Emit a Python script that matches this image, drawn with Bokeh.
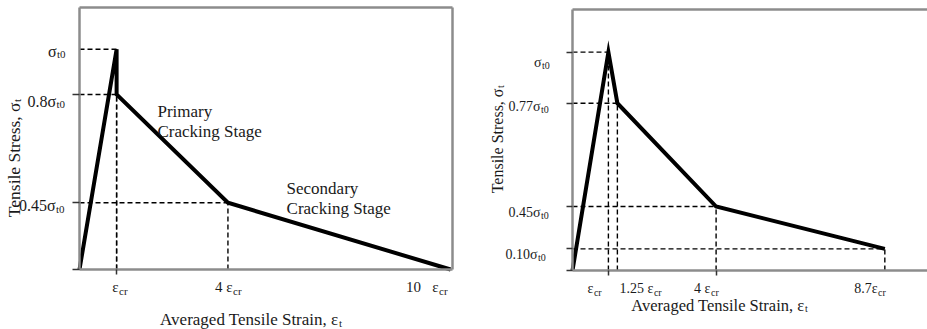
import math
from bokeh.plotting import figure
from bokeh.models import Range1d, FixedTicker, Label, LinearAxis, CustomJSTickFormatter
from bokeh.layouts import row
from bokeh.embed import file_html
from bokeh.resources import INLINE

FONT = "Liberation Serif"
AXIS_GRAY = "#8c8c8c"
TXT = "#1a1a1a"

# ---------------- data ----------------
# strain in multiples of eps_cr; stress heights as drawn in the (not-to-scale) schematic, in units of sigma_t0
strain_a = [0.0, 1.0, 1.0, 4.0, 10.0]
stress_a = [0.0, 1.0, 0.795, 0.303, 0.0]
ytick_a = [1.0, 0.795, 0.303]
ylab_a = ["σ", "0.8σ", "0.45σ"]
xtick_a = [1.0, 4.0, 10.0]
xlab_a = ["ε", "4 ε", "10\u00a0\u00a0\u00a0ε"]
stage_a = ["Primary", "Cracking Stage", "Secondary", "Cracking Stage"]
xmax_a, ymax_a = 10.05, 1.19

strain_b = [0.0, 1.0, 1.25, 4.0, 8.7]
stress_b = [0.0, 1.0, 0.766, 0.293, 0.099]
ytick_b = [1.0, 0.766, 0.293, 0.099]
ylab_b = ["σ", "0.77σ", "0.45σ", "0.10σ"]
xtick_b = [1.0, 1.25, 4.0, 8.7]
xlab_b = ["ε", "1.25 ε", "4 ε", "8.7ε"]
xmax_b, ymax_b = 9.89, 1.195

sub_stress = "t0"
sub_strain = "cr"
x_title = "Averaged Tensile Strain, ε"
y_title = "Tensile Stress, σ"
title_sub = "t"


def lab(p, x, y, text, dx, dy, size, align="left", angle=0.0, color=TXT):
    # dx: pixels to the right, dy: pixels downward
    p.add_layout(Label(x=x, y=y, text=text, x_offset=dx, y_offset=-dy,
                       text_font=FONT, text_font_size=size, text_align=align,
                       text_baseline="alphabetic", angle=angle, text_color=color))


def sub_label(p, x, y, base, sub, dx, dy, size, subsize, drop, rotated=False):
    if not rotated:
        lab(p, x, y, base, dx, dy, size, "right")
        lab(p, x, y, sub, dx + 0.5, dy + drop, subsize, "left")
    else:
        a = math.pi / 2
        lab(p, x, y, base, dx, dy, size, "right", a)
        lab(p, x, y, sub, dx + drop, dy - 0.5, subsize, "left", a)


def add_axis(p, side, loc, bounds, ticks, tick_out, line_w=2.5, tick_color="#333333"):
    ax = LinearAxis(ticker=FixedTicker(ticks=ticks), formatter=CustomJSTickFormatter(code="return ''"))
    ax.fixed_location = loc
    ax.bounds = bounds
    ax.axis_line_color = AXIS_GRAY
    ax.axis_line_width = line_w
    ax.major_tick_out = tick_out
    ax.major_tick_in = 0
    ax.major_tick_line_color = tick_color if tick_out > 0 else None
    ax.major_tick_line_width = 1.5
    ax.minor_tick_line_color = None
    ax.major_label_standoff = 0
    ax.major_label_text_font_size = "1px"
    p.add_layout(ax, side)


def guides(p, strain, stress):
    xs, ys = [], []
    for x, y in zip(strain[1:], stress[1:]):
        if y > 0:
            xs.append([0, x]); ys.append([y, y])
            xs.append([x, x]); ys.append([0, y])
    p.multi_line(xs, ys, line_color="black", line_width=1.4, line_dash="5 3")


def base_fig(width, x_range, y_range):
    p = figure(width=width, height=329, x_range=x_range, y_range=y_range,
               output_backend="svg", toolbar_location=None, x_axis_type=None, y_axis_type=None,
               min_border_left=0, min_border_right=0, min_border_top=0, min_border_bottom=0)
    p.outline_line_color = None
    p.background_fill_color = "white"
    p.border_fill_color = "white"
    return p


# ---------------- left panel ----------------
# frame origin at (79, 269) px; 37.11 px per eps_cr, 220.2 px per sigma_t0
p1 = base_fig(470, Range1d(-79 / 37.11, 391 / 37.11), Range1d(-60 / 220.2, 269 / 220.2))
add_axis(p1, "left", 0, (0, ymax_a), [0.0, 0.303, 0.795], 7)
add_axis(p1, "below", 0, (0, xmax_a), [1.0], 5)
add_axis(p1, "right", xmax_a, (0, ymax_a), [], 0)
add_axis(p1, "above", ymax_a, (0, xmax_a), [], 0)

guides(p1, strain_a, stress_a)
p1.line(strain_a, stress_a, line_color="black", line_width=4, line_join="miter")

ya_off = [(-23, 2), (-23.5, 7), (-24, 3)]
for v, t, (dx, dy) in zip(ytick_a, ylab_a, ya_off):
    sub_label(p1, 0, v, t, sub_stress, dx, dy, "16px", "11px", 3)
xa_off = [2, 4.6, -12]
for v, t, dx in zip(xtick_a, xlab_a, xa_off):
    sub_label(p1, v, 0, t, sub_strain, dx, 17, "15px", "11px", 4)

sub_label(p1, 0, 0, x_title, title_sub, 259, 50, "17px", "11px", 3)
sub_label(p1, 0, 0, y_title, title_sub, -66, -167, "17.5px", "11px", 3, rotated=True)

stage_pos = [(2.1, 0.718), (2.1, 0.627), (5.58, 0.368), (5.58, 0.277)]
for t, (x, y) in zip(stage_a, stage_pos):
    lab(p1, x, y, t, 0, 0, "17px", "left")

# ---------------- right panel ----------------
# frame origin at (102, 270) px; 35.9 px per eps_cr, 218.4 px per sigma_t0
p2 = base_fig(457, Range1d(-102 / 35.9, 355 / 35.9), Range1d(-59 / 218.4, 270 / 218.4))
add_axis(p2, "left", 0, (0, ymax_b), [0.0] + ytick_b, 6)
add_axis(p2, "below", 0, (0, xmax_b), [1.0, 4.0], 5)
add_axis(p2, "above", ymax_b, (0, xmax_b), [], 0)

guides(p2, strain_b, stress_b)
p2.line(strain_b, stress_b, line_color="black", line_width=4, line_join="miter")

yb_off = [(-31, 10), (-32, 3.5), (-32, 5.5), (-35, 6)]
for v, t, (dx, dy) in zip(ytick_b, ylab_b, yb_off):
    sub_label(p2, 0, v, t, sub_stress, dx, dy, "14px", "10px", 3)
xb_off = [-15, 36, -5.6, -7.3]
for v, t, dx in zip(xtick_b, xlab_b, xb_off):
    sub_label(p2, v, 0, t, sub_strain, dx, 18, "14px", "10px", 4)

sub_label(p2, 0, 0, x_title, title_sub, 232, 35, "16.5px", "10px", 3)
sub_label(p2, 0, 0, y_title, title_sub, -75, -182, "16px", "10px", 3, rotated=True)

layout = row(p1, p2, spacing=0)
open("out.html", "w").write(file_html(layout, INLINE))
